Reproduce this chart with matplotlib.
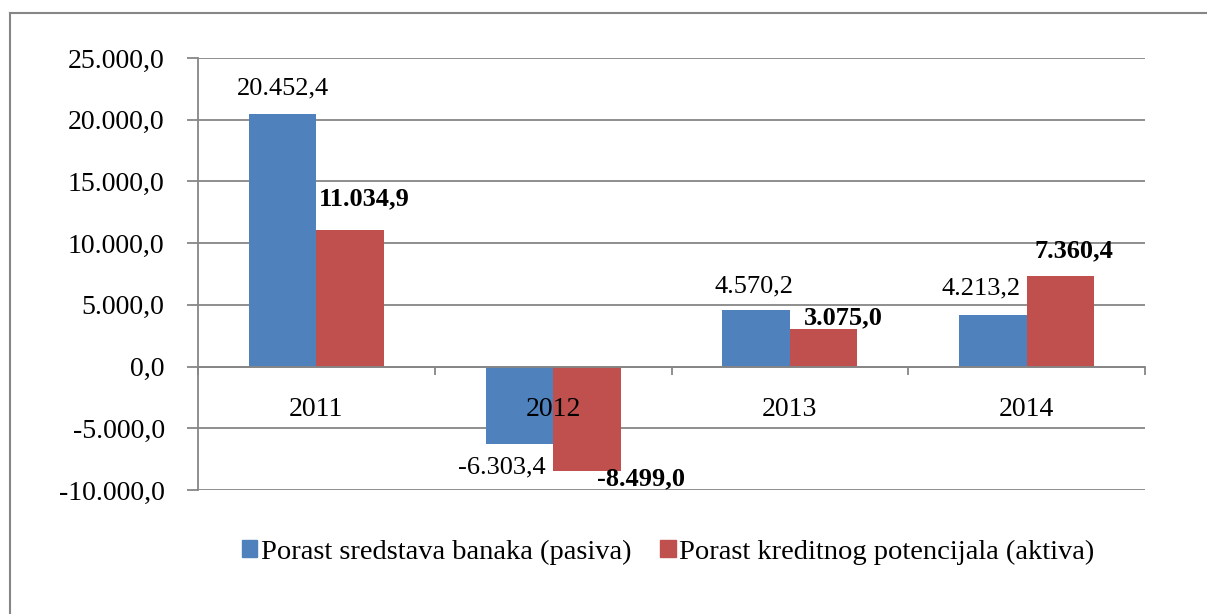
import matplotlib
matplotlib.use("Agg")
import matplotlib.pyplot as plt
from matplotlib.lines import Line2D
import numpy as np

years = ["2011", "2012", "2013", "2014"]
pasiva = [20452.4, -6303.4, 4570.2, 4213.2]
aktiva = [11034.9, -8499.0, 3075.0, 7360.4]
series_names = ["Porast sredstava banaka (pasiva)", "Porast kreditnog potencijala (aktiva)"]
yticks = [-10000, -5000, 0, 5000, 10000, 15000, 20000, 25000]

BLUE = "#4F81BD"
RED = "#C0504D"
GRID = "#868686"
FONT = "Liberation Serif"
FS = 19

plt.rcParams["font.family"] = [FONT, "DejaVu Serif"]

def fmt(v):
    s = f"{v:,.1f}"
    return s.replace(",", "X").replace(".", ",").replace("X", ".")

fig = plt.figure(figsize=(12.07, 6.14), dpi=100)
ax = fig.add_axes([198/1207, 1 - 490/614, (1145-198)/1207, (490-58)/614])
ax.set_axisbelow(False)

x = np.arange(len(years))
w = 0.285
ax.bar(x - w/2, pasiva, w, color=BLUE, zorder=1)
ax.bar(x + w/2, aktiva, w, color=RED, zorder=1)

ax.set_xlim(-0.5, len(years) - 0.5)
ax.set_ylim(min(yticks), max(yticks))
ax.set_yticks(yticks)
ax.set_yticklabels([fmt(t) for t in yticks], fontsize=20)
for t in yticks:
    ax.axhline(t, color=GRID, linewidth=1.3, zorder=0.5)
ax.tick_params(axis="y", length=8, width=1.3, color=GRID, pad=16)

for s in ["top", "right"]:
    ax.spines[s].set_visible(False)
ax.spines["left"].set_color(GRID)
ax.spines["left"].set_linewidth(1.3)
ax.spines["bottom"].set_position(("data", 0))
ax.spines["bottom"].set_color(GRID)
ax.spines["bottom"].set_linewidth(1.3)

ax.set_xticks(x)
ax.set_xticklabels(years, fontsize=20)
ax.set_xticks(np.arange(len(years) + 1) - 0.5, minor=True)
ax.tick_params(axis="x", which="major", length=0, pad=22)
ax.tick_params(axis="x", which="minor", length=6, width=1.3, color=GRID, direction="out")

# label offsets in pixels (dx, distance beyond bar end)
off_p = [(0, 26), (-18, 23), (-2, 24), (-12, 26)]
off_a = [(14, 32), (54, 7), (20, 11), (14, 25)]
for i in range(len(years)):
    for vals, offs, xo, bold in ((pasiva, off_p, -w/2, False), (aktiva, off_a, w/2, True)):
        v = vals[i]
        dx, dy = offs[i]
        sgn = 1 if v >= 0 else -1
        ax.annotate(fmt(v), (x[i] + xo, v), xytext=(dx * 0.72, sgn * dy * 0.72),
                    textcoords="offset points", ha="center", va="center",
                    fontsize=FS, fontweight="bold" if bold else "normal", zorder=5)

handles = [plt.Rectangle((0, 0), 1, 1, color=BLUE), plt.Rectangle((0, 0), 1, 1, color=RED)]
fig.legend(handles, series_names, loc="center", bbox_to_anchor=(668/1207, 1 - 552/614),
           ncol=2, frameon=False, fontsize=20.5, handlelength=0.55, handleheight=0.55,
           handletextpad=0.12, columnspacing=1.0)

# outer chart frame
fig.add_artist(Line2D([9.5/1207, 9.5/1207], [0, 1 - 13/614], color=GRID, linewidth=1.5))
fig.add_artist(Line2D([9.5/1207, 1], [1 - 13/614, 1 - 13/614], color=GRID, linewidth=1.5))

fig.savefig("out.png", dpi=100)
